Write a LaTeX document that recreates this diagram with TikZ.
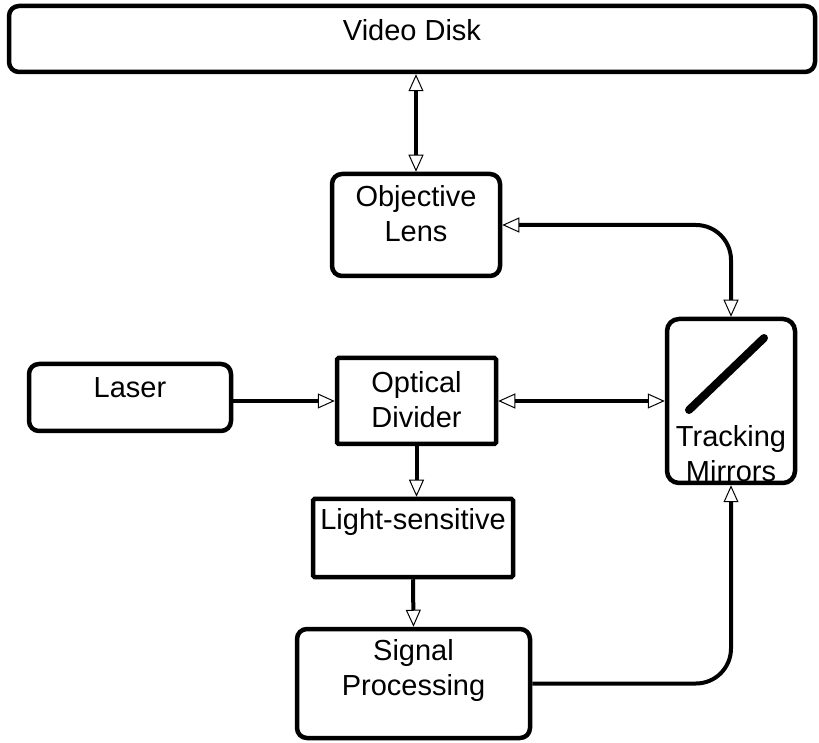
\documentclass[tikz,border=0pt]{standalone}
\usepackage{fontspec}
\setmainfont{Liberation Sans}
\usetikzlibrary{arrows.meta, positioning}

\begin{document}
\begin{tikzpicture}[x=1pt, y=1pt,
box/.style = {draw, line width=4.5pt, rounded corners=10pt, inner sep=0pt},
sharpbox/.style = {box, rounded corners=1.5pt},
txt/.style = {inner sep=0pt, align=center,
              font=\fontsize{29}{35}\selectfont},
link/.style = {line width=4pt,
               arrows={-Triangle[open, length=17pt, width=15pt, line width=1pt]}},
twolink/.style = {link,
               arrows={Triangle[open, length=17pt, width=15pt, line width=1pt]-Triangle[open, length=17pt, width=15pt, line width=1pt]}}
                        ]
\useasboundingbox (0,0) rectangle (819,742);
% boxes
\node (disk) [box, minimum width=806pt, minimum height=66pt] at (412,703) {};
\node (disktext) [txt] at (412,712) {Video Disk};
\node (lens) [box, minimum width=168pt, minimum height=102pt] at (416,517) {};
\node (lenstext) [txt] at (416,528) {Objective\\Lens};
\node (laser) [box, minimum width=202pt, minimum height=67pt] at (130,344.5) {};
\node (lasertext) [txt] at (130,354) {Laser};
\node (divider) [sharpbox, minimum width=159pt, minimum height=86pt] at (416.5,341) {};
\node (dividertext) [txt] at (416.5,342.5) {Optical\\Divider};
\node (track) [box, rounded corners=12pt, minimum width=128pt, minimum height=164pt] at (731,341) {};
\node (tracktext) [txt] at (731,288.5) {Tracking\\Mirrors};
\draw [line width=8pt, line cap=round] ([shift={(-42,-9)}]track.center) -- ([shift={(33,63)}]track.center);
\node (light) [sharpbox, minimum width=200pt, minimum height=78pt] at (413,204) {};
\node (lighttext) [txt] at (413,220) {Light-sensitive};
\node (signal) [box, minimum width=233pt, minimum height=109pt] at (413.5,58.5) {};
\node (signaltext) [txt] at (413.5,71) {Signal\\Processing};
% connectors
\draw [twolink] (lens.north) -- (lens.north |- disk.south);
\draw [twolink, rounded corners=35pt] (lens.east) -| (track.north);
\draw [link] (laser.east |- divider.west) -- (divider.west);
\draw [twolink] (divider.east) -- (track.west);
\draw [link] (divider.south) -- (divider.south |- light.north);
\draw [link] (light.south) -- (signal.north);
\draw [link, rounded corners=35pt] (signal.east) -| (track.south);
\end{tikzpicture}
\end{document}
